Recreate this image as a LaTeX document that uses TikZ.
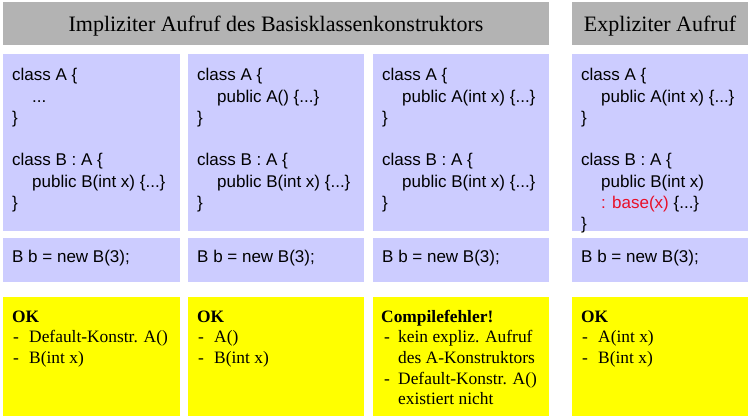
\documentclass[tikz,border=0pt]{standalone}
\usepackage{fontspec}
\setmainfont{Liberation Serif}
\setsansfont{Liberation Sans}
\definecolor{hdrgray}{RGB}{179,179,179}
\definecolor{codeblue}{RGB}{204,204,255}
\definecolor{resyellow}{RGB}{255,255,0}
\definecolor{basered}{RGB}{232,16,40}
\begin{document}
\begin{tikzpicture}[x=1pt,y=-1pt,
  panel/.style={anchor=north west, inner sep=0pt, outer sep=0pt, draw=none},
  hdrbox/.style={panel, fill=hdrgray},
  codebox/.style={panel, fill=codeblue},
  resbox/.style={panel, fill=resyellow},
  hdrtext/.style={anchor=base, inner sep=0pt, font=\fontsize{22}{26}\selectfont},
  code/.style={anchor=base west, inner sep=0pt, font=\sffamily\fontsize{17}{21.2}\selectfont},
  result/.style={anchor=base west, inner sep=0pt, font=\fontsize{17.4}{20.7}\selectfont}
]
\useasboundingbox (0,0) rectangle (750,417);

% headers
\node[hdrbox, minimum width=546pt, minimum height=43pt] (h1) at (3,2) {};
\node[hdrbox, minimum width=176pt, minimum height=43pt] (h2) at (572,2) {};
\node[hdrtext] (h1t) at (276,32) {Impliziter Aufruf des Basisklassenkonstruktors};
\node[hdrtext] (h2t) at (660,32) {Expliziter Aufruf};

% class definitions
\node[codebox, minimum width=177pt, minimum height=177pt] (c1) at (3,54) {};
\node[codebox, minimum width=176pt, minimum height=177pt] (c2) at (188,54) {};
\node[codebox, minimum width=176pt, minimum height=177pt] (c3) at (373,54) {};
\node[codebox, minimum width=176pt, minimum height=177pt] (c4) at (572,54) {};

% column 1
\node[code] (c1l1) at (12,81)    {class A \{};
\node[code] (c1l2) at (32,102.2) {...};
\node[code] (c1l3) at (12,123.4) {\}};
\node[code] (c1l4) at (12,166)   {class B : A \{};
\node[code] (c1l5) at (32,187.2) {public B(int x) \{...\}};
\node[code] (c1l6) at (12,208.4) {\}};
% column 2
\node[code] (c2l1) at (197,81)    {class A \{};
\node[code] (c2l2) at (217,102.2) {public A() \{...\}};
\node[code] (c2l3) at (197,123.4) {\}};
\node[code] (c2l4) at (197,166)   {class B : A \{};
\node[code] (c2l5) at (217,187.2) {public B(int x) \{...\}};
\node[code] (c2l6) at (197,208.4) {\}};
% column 3
\node[code] (c3l1) at (382,81)    {class A \{};
\node[code] (c3l2) at (402,102.2) {public A(int x) \{...\}};
\node[code] (c3l3) at (382,123.4) {\}};
\node[code] (c3l4) at (382,166)   {class B : A \{};
\node[code] (c3l5) at (402,187.2) {public B(int x) \{...\}};
\node[code] (c3l6) at (382,208.4) {\}};
% column 4
\node[code] (c4l1) at (581,81)    {class A \{};
\node[code] (c4l2) at (601,102.2) {public A(int x) \{...\}};
\node[code] (c4l3) at (581,123.4) {\}};
\node[code] (c4l4) at (581,166)   {class B : A \{};
\node[code] (c4l5) at (601,187.2) {public B(int x)};
\node[code] (c4l6) at (601,208.4) {\textcolor{basered}{: base(x)} \{...\}};
\node[code] (c4l7) at (581,229.6) {\}};

% object creation
\node[codebox, minimum width=177pt, minimum height=44pt] (n1) at (3,238) {};
\node[codebox, minimum width=176pt, minimum height=44pt] (n2) at (188,238) {};
\node[codebox, minimum width=176pt, minimum height=44pt] (n3) at (373,238) {};
\node[codebox, minimum width=176pt, minimum height=44pt] (n4) at (572,238) {};
\node[code] (n1t) at (12,262)  {B b = new B(3);};
\node[code] (n2t) at (197,262) {B b = new B(3);};
\node[code] (n3t) at (382,262) {B b = new B(3);};
\node[code] (n4t) at (581,262) {B b = new B(3);};

% results
\node[resbox, minimum width=177pt, minimum height=119pt] (r1) at (3,297) {};
\node[resbox, minimum width=176pt, minimum height=119pt] (r2) at (188,297) {};
\node[resbox, minimum width=176pt, minimum height=119pt] (r3) at (373,297) {};
\node[resbox, minimum width=176pt, minimum height=119pt] (r4) at (572,297) {};

\node[result] (r1h) at (12,322)    {\textbf{OK}};
\node[result] (r1d1) at (13,342.7) {-};
\node[result] (r1i1) at (29,342.7) {Default-Konstr. A()};
\node[result] (r1d2) at (13,363.4) {-};
\node[result] (r1i2) at (29,363.4) {B(int x)};

\node[result] (r2h) at (197,322)    {\textbf{OK}};
\node[result] (r2d1) at (198,342.7) {-};
\node[result] (r2i1) at (214,342.7) {A()};
\node[result] (r2d2) at (198,363.4) {-};
\node[result] (r2i2) at (214,363.4) {B(int x)};

\node[result] (r3h) at (381,322)    {\textbf{Compilefehler!}};
\node[result] (r3d1) at (384,342.7) {-};
\node[result] (r3i1) at (398,342.7) {kein expliz. Aufruf};
\node[result] (r3i1b) at (398,363.4) {des A-Konstruktors};
\node[result] (r3d2) at (384,384.1) {-};
\node[result] (r3i2) at (398,384.1) {Default-Konstr. A()};
\node[result] (r3i2b) at (398,404.8) {existiert nicht};

\node[result] (r4h) at (581,322)    {\textbf{OK}};
\node[result] (r4d1) at (582,342.7) {-};
\node[result] (r4i1) at (598,342.7) {A(int x)};
\node[result] (r4d2) at (582,363.4) {-};
\node[result] (r4i2) at (598,363.4) {B(int x)};
\end{tikzpicture}
\end{document}
